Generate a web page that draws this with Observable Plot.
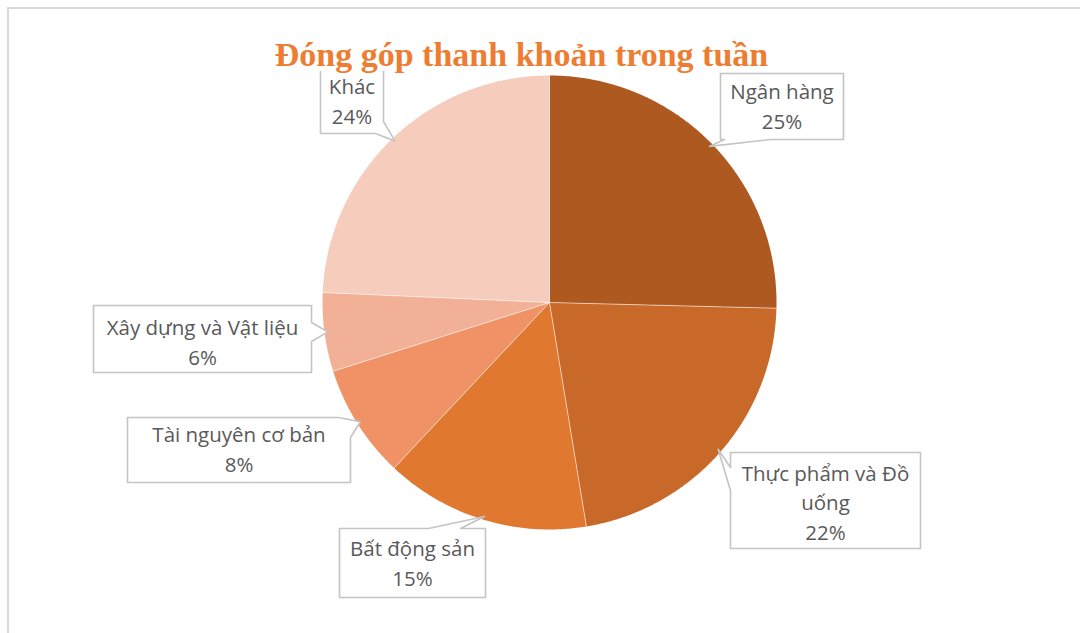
<!DOCTYPE html>
<html><head><meta charset="utf-8">
<script src="https://cdn.jsdelivr.net/npm/d3@7"></script>
<script src="https://cdn.jsdelivr.net/npm/@observablehq/plot@0.6"></script>
<style>
body{margin:0;background:#fff;overflow:hidden;}
#frame{position:absolute;left:7px;top:7px;width:1200px;height:800px;border-left:2px solid #d9d9d9;border-top:2px solid #d9d9d9;}
#chart{position:absolute;left:0;top:0;}
</style></head><body><div id="frame"></div><div id="chart"></div>
<script>
// ---- data ----
const title = "Đóng góp thanh khoản trong tuần";
const categories = ["Ngân hàng", "Thực phẩm và Đồ uống", "Bất động sản", "Tài nguyên cơ bản", "Xây dựng và Vật liệu", "Khác"];
const shares = [25.4, 22.0, 14.6, 8.1, 5.6, 24.3];
const percentLabels = ["25%", "22%", "15%", "8%", "6%", "24%"];
const labelText = ["Ngân hàng", "Thực phẩm và Đồ\nuống", "Bất động sản", "Tài nguyên cơ bản", "Xây dựng và Vật liệu", "Khác"];
const sliceColors = ["#AD5920", "#C8692A", "#E07830", "#F09265", "#F2B196", "#F6CCBD"];

// ---- layout ----
const W = 1080, H = 633;
const pieLayout = {cx: 549, cy: 302, r: 227};
// box: [x0, y0, x1, y1]; edge: where the pointer leaves the box; base: two points on that edge; baseline: last text line
const callouts = [
  {box: [720, 73, 843, 139], edge: "bottom", base: [[770, 139], [724, 139]], baseline: 128},
  {box: [730, 452, 920, 548], edge: "left", base: [[730, 490], [730, 467]], baseline: 539},
  {box: [339, 528, 485, 597], edge: "top", base: [[428, 528], [460, 528]], baseline: 585},
  {box: [127, 417, 350, 482], edge: "tr", base: [[338, 417], [350, 437]], baseline: 471},
  {box: [93, 305, 311, 372], edge: "right", base: [[311, 322], [311, 341]], baseline: 364},
  {box: [320, 68, 383, 133], edge: "br", base: [[383, 121], [375, 133]], baseline: 123}
];
const titleLayout = {x: 521, y: 65, back: [270, 28, 775, 71]};
const labelFont = "'Open Sans', 'Noto Sans', sans-serif";
const labelSize = 20.5;
const lineStep = 29.5;

// ---- geometry from data ----
const arcs = d3.pie().sort(null).startAngle(0).endAngle(2 * Math.PI)(shares);
const pt = (a, rr) => [pieLayout.cx + rr * Math.sin(a), pieLayout.cy - rr * Math.cos(a)];
const sliceRows = [];
arcs.forEach((a, i) => {
  const name = categories[i];
  const [x0, y0] = pt(0, 0);
  sliceRows.push({name, x: x0, y: y0});
  const n = Math.max(2, Math.ceil((a.endAngle - a.startAngle) / (Math.PI / 360)));
  for (let k = 0; k <= n; k++) {
    const ang = a.startAngle + (a.endAngle - a.startAngle) * k / n;
    const [x, y] = pt(ang, pieLayout.r);
    sliceRows.push({name, x, y});
  }
});
const separators = arcs.map(a => {
  const [x2, y2] = pt(a.startAngle, pieLayout.r);
  return {x1: pieLayout.cx, y1: pieLayout.cy, x2, y2};
});

const calloutRows = [];
const textRows = [];
callouts.forEach((c, i) => {
  const a = arcs[i];
  const mid = (a.startAngle + a.endAngle) / 2;
  const tip = pt(mid, pieLayout.r * 0.985);
  const [x0, y0, x1, y1] = c.box;
  const tail = [c.base[0], tip, c.base[1]];
  let ring = [];
  ring.push([x0, y0]);
  if (c.edge === "top") ring.push(...tail);
  if (c.edge === "tr") ring.push(...tail); else ring.push([x1, y0]);
  if (c.edge === "right") ring.push(...tail);
  if (c.edge === "br") ring.push(...tail); else ring.push([x1, y1]);
  if (c.edge === "bottom") ring.push(...tail);
  ring.push([x0, y1]);
  if (c.edge === "left") ring.push(...tail);
  ring.forEach(([x, y]) => calloutRows.push({id: i, x, y}));
  textRows.push({x: (x0 + x1) / 2, y: c.baseline, text: labelText[i] + "\n" + percentLabels[i]});
});

const plot = Plot.plot({
  width: W, height: H,
  margin: 0,
  x: {domain: [0, W], range: [0, W], axis: null},
  y: {domain: [0, H], range: [0, H], axis: null},
  color: {type: "ordinal", domain: categories, range: sliceColors},
  style: {background: "transparent", overflow: "visible"},
  marks: [
    Plot.line(sliceRows, {x: "x", y: "y", z: "name", fill: "name", stroke: "none", curve: "linear-closed"}),
    Plot.link(separators, {x1: "x1", y1: "y1", x2: "x2", y2: "y2", stroke: "white", strokeWidth: 1, strokeOpacity: 0.55}),
    Plot.line(calloutRows, {x: "x", y: "y", z: "id", fill: "white", stroke: "#C4C4C4", strokeWidth: 1.6, curve: "linear-closed"}),
    Plot.text(textRows, {x: "x", y: "y", text: "text", textAnchor: "middle", lineAnchor: "bottom",
      lineHeight: lineStep / labelSize, fontFamily: labelFont, fontSize: labelSize, fill: "#595959"}),
    Plot.rect([titleLayout.back], {x1: d => d[0], y1: d => d[1], x2: d => d[2], y2: d => d[3], fill: "white"}),
    Plot.text([title], {x: () => titleLayout.x, y: () => titleLayout.y, text: d => d, textAnchor: "middle", lineAnchor: "bottom",
      fontFamily: "'Liberation Serif', serif", fontWeight: "bold", fontSize: 34, fill: "#ED7D31"})
  ]
});
document.getElementById("chart").appendChild(plot);
</script>
</body></html>
